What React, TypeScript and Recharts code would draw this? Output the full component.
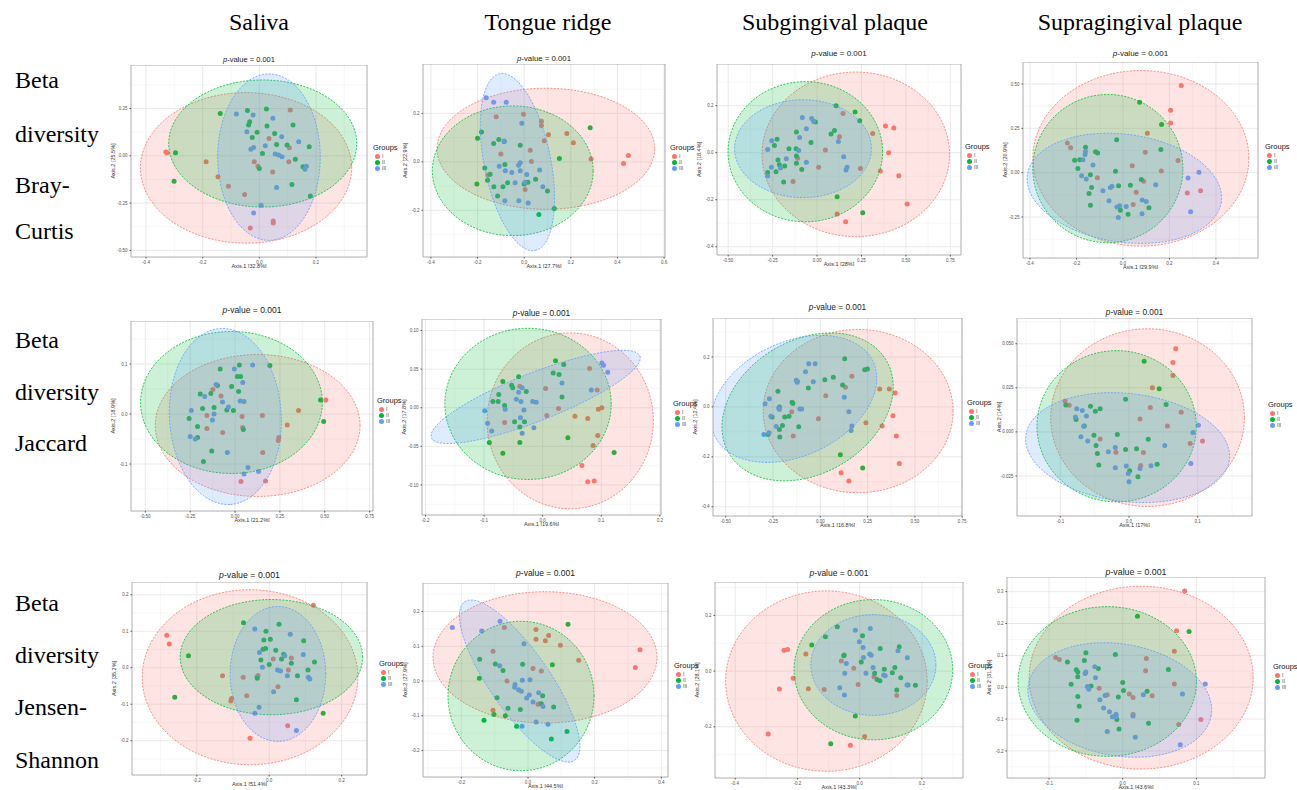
import { useMemo } from 'react'
import { ScatterChart, Scatter, XAxis, YAxis, CartesianGrid, ReferenceArea } from 'recharts'

const groupColors = ['#F8766D', '#00BA38', '#619CFF']
const groupNames = ['I', 'II', 'III']
const columnTitles = ['Saliva', 'Tongue ridge', 'Subgingival plaque', 'Supragingival plaque']
const rowTitles = [
  ['Beta', 'diversity', 'Bray-', 'Curtis'],
  ['Beta', 'diversity', 'Jaccard'],
  ['Beta', 'diversity', 'Jensen-', 'Shannon'],
]
const pValue = '0.001'

// ---- Bray-Curtis ----
const salivaBrayI = [[-0.33,0.02],[-0.325,0.015],[-0.188,-0.032],[-0.146,-0.111],[-0.109,-0.161],[-0.052,-0.205],[-0.018,-0.032],[-0.005,-0.055],[0.034,0.092],[0.047,-0.085],[0.106,0.042],[0.109,0.242],[0.104,-0.032],[-0.032,-0.382],[0.049,-0.345],[0.049,-0.355]]
const salivaBrayII = [[-0.296,0.016],[-0.301,-0.134],[-0.138,0.224],[-0.042,0.239],[0.025,0.247],[-0.034,0.18],[-0.038,0.163],[-0.008,0.124],[-0.025,0.097],[0.027,0.157],[0.054,0.118],[0.061,0.06],[0.119,0.163],[0.098,0.057],[0.176,0.048],[0.127,-0.018],[0.154,-0.058],[0.011,0.012],[0.0,-0.067],[0.115,-0.152],[0.18,-0.212]]
const salivaBrayIII = [[-0.081,0.221],[-0.022,0.216],[0.048,0.198],[-0.044,0.127],[0.079,0.101],[0.139,0.074],[-0.03,0.035],[-0.02,0.044],[0.021,0.053],[0.056,0.009],[0.068,0.004],[0.08,-0.005],[0.166,-0.055],[0.161,-0.071],[0.061,-0.168],[0.006,-0.261],[-0.02,-0.302]]
const salivaBrayEllipses = [[-0.047,-0.064,0.326,-0.064,-0.047,0.334],[0.012,0.065,0.344,0.065,0.012,0.401],[0.034,-0.007,0.215,-0.007,0.034,0.433]]

const tongueBrayI = [[-0.12,0.186],[-0.003,0.197],[0.074,0.168],[0.074,0.15],[0.104,0.112],[0.086,0.087],[0.183,0.117],[0.211,0.079],[-0.1,0.032],[0.026,0.048],[0.031,0.001],[0.287,0.012],[0.426,-0.007],[0.447,0.026],[0.004,-0.114],[-0.156,-0.055]]
const tongueBrayII = [[0.283,0.141],[-0.183,0.123],[-0.2,0.097],[-0.109,0.092],[-0.131,0.076],[-0.086,0.084],[-0.017,0.068],[0.151,0.014],[-0.083,-0.011],[-0.169,-0.025],[-0.146,-0.051],[-0.157,-0.076],[-0.203,-0.092],[-0.13,-0.103],[-0.114,-0.141],[-0.091,-0.103],[-0.071,-0.086],[0.0,-0.092],[0.016,-0.084],[0.049,-0.072],[0.1,-0.12],[0.129,-0.193],[0.063,-0.218]]
const tongueBrayIII = [[-0.163,0.265],[-0.131,0.246],[-0.077,0.246],[-0.01,0.159],[-0.086,0.086],[-0.107,-0.018],[-0.081,-0.037],[-0.053,-0.044],[-0.024,-0.014],[-0.017,-0.004],[-0.017,-0.037],[-0.039,-0.086],[0.011,-0.052],[0.004,-0.084],[0.066,-0.034],[0.08,-0.103],[-0.083,-0.161],[-0.023,-0.161],[0.017,-0.17]]
const tongueBrayEllipses = [[0.093,0.054,0.56,0.054,0.093,0.304],[-0.049,-0.037,0.296,-0.037,-0.049,0.231],[-0.029,-0.001,0.047,-0.366,0.111,0.026]]

const subBrayI = [[0.146,0.167],[0.313,0.082],[0.385,0.113],[0.432,0.105],[0.126,0.068],[0.047,0.011],[0.009,-0.062],[0.403,0.0],[0.356,-0.078],[0.46,-0.098],[0.244,-0.067],[-0.135,-0.123],[-0.109,-0.024],[0.507,-0.218],[0.113,-0.261],[0.161,-0.294]]
const subBrayII = [[0.107,0.199],[0.214,0.173],[0.24,0.136],[-0.009,0.13],[0.098,0.094],[0.079,0.079],[-0.116,0.088],[-0.034,0.043],[-0.158,0.017],[-0.118,0.017],[-0.116,-0.014],[-0.24,0.031],[-0.225,0.057],[-0.22,-0.031],[-0.212,-0.051],[-0.182,-0.057],[-0.231,-0.081],[-0.278,-0.084],[-0.188,-0.125],[-0.116,-0.045],[-0.086,-0.071],[0.113,-0.187],[0.257,-0.255]]
const subBrayIII = [[-0.083,0.15],[-0.06,0.102],[-0.03,0.145],[-0.019,0.133],[-0.098,0.065],[-0.103,0.009],[-0.255,0.051],[-0.278,0.014],[-0.173,-0.026],[-0.257,-0.062],[-0.278,-0.099],[-0.206,-0.065],[-0.06,-0.041],[0.12,0.047],[0.15,-0.017],[0.169,-0.062],[0.163,-0.074]]
const subBrayEllipses = [[0.218,-0.007,0.746,-0.007,0.218,0.343],[-0.066,0.004,0.369,0.004,-0.066,0.302],[-0.079,0.017,0.306,0.017,-0.079,0.225]]

const supraBrayI = [[0.251,0.492],[0.205,0.352],[0.205,0.28],[0.105,0.222],[-0.239,0.167],[-0.225,0.141],[0.096,0.115],[0.237,0.068],[0.04,0.039],[0.165,0.009],[-0.11,-0.028],[0.089,-0.049],[0.057,-0.111],[0.044,-0.18],[0.277,-0.115],[0.334,-0.102]]
const supraBrayII = [[0.072,0.397],[0.166,0.271],[-0.027,0.186],[0.163,0.13],[-0.161,0.143],[-0.118,0.118],[-0.109,0.111],[-0.208,0.07],[-0.186,0.073],[-0.194,0.023],[-0.14,-0.011],[-0.135,-0.083],[-0.146,-0.118],[-0.14,-0.184],[-0.032,0.008],[-0.019,-0.073],[0.032,-0.071],[0.079,-0.039],[0.112,-0.197],[0.022,-0.235],[-0.011,-0.212]]
const supraBrayIII = [[-0.161,0.12],[-0.163,0.102],[-0.172,0.073],[-0.129,0.043],[-0.178,-0.017],[-0.158,-0.036],[-0.086,-0.102],[-0.054,-0.083],[-0.047,-0.077],[-0.06,-0.158],[-0.026,-0.194],[-0.014,-0.186],[0.014,-0.19],[-0.02,-0.252],[0.082,-0.231],[0.083,-0.154],[0.1,-0.162],[0.141,-0.068],[0.28,-0.03],[0.327,0.002],[0.291,-0.22]]
const supraBrayEllipses = [[0.077,0.081,0.542,0.081,0.077,0.576],[-0.065,0.023,0.258,0.023,-0.065,0.441],[0.006,-0.088,0.423,-0.165,-0.027,-0.389]]

// ---- Jaccard ----
const salivaJacI = [[-0.124,0.049],[-0.078,0.036],[-0.157,-0.003],[-0.157,-0.029],[-0.069,-0.037],[0.039,-0.005],[0.043,-0.027],[0.152,-0.003],[0.154,-0.077],[0.244,-0.047],[0.241,-0.053],[0.291,-0.022],[0.354,0.007],[0.506,0.028],[0.033,-0.135],[0.17,-0.134]]
const salivaJacII = [[-0.083,0.09],[0.024,0.098],[0.194,0.097],[0.013,0.075],[0.031,0.075],[-0.019,0.055],[0.02,0.045],[-0.194,0.04],[-0.135,0.041],[-0.098,0.057],[-0.181,0.011],[-0.117,0.013],[-0.046,0.008],[-0.009,0.007],[-0.256,-0.009],[-0.209,-0.025],[-0.209,-0.047],[0.046,-0.031],[-0.13,-0.074],[-0.176,-0.095],[0.476,0.028],[0.494,-0.015]]
const salivaJacIII = [[-0.004,0.09],[0.098,0.098],[0.043,0.063],[-0.106,0.059],[-0.169,0.035],[-0.07,0.024],[-0.037,0.014],[0.028,0.026],[0.05,0.025],[-0.244,0.007],[-0.117,0.0],[-0.126,-0.012],[-0.25,-0.045],[-0.222,-0.05],[-0.043,-0.077],[0.072,-0.107],[0.131,-0.115],[0.05,-0.12]]
const salivaJacEllipses = [[0.126,-0.023,0.697,-0.023,0.126,0.119],[-0.02,0.023,0.487,0.023,-0.02,0.165],[-0.054,-0.005,-0.026,-0.181,0.257,0.002]]

const tongueJacI = [[0.08,0.051],[0.093,0.023],[0.005,0.025],[-0.039,0.028],[-0.065,-0.019],[0.007,-0.01],[0.027,-0.001],[0.055,-0.011],[0.077,-0.014],[0.095,-0.002],[0.101,0.0],[0.094,-0.036],[0.086,-0.049],[0.067,-0.075],[0.077,-0.096],[0.088,-0.095]]
const tongueJacII = [[0.022,0.061],[0.036,0.056],[0.018,0.045],[0.028,0.043],[-0.041,0.04],[-0.068,0.034],[-0.053,0.029],[-0.051,0.026],[-0.075,0.017],[-0.028,0.021],[-0.085,0.008],[-0.076,0.008],[-0.065,0.003],[0.033,0.014],[-0.048,-0.018],[-0.031,-0.018],[-0.039,-0.025],[0.043,-0.039],[-0.091,-0.045],[-0.039,-0.045],[-0.068,-0.059],[0.122,-0.058]]
const tongueJacIII = [[0.101,0.058],[0.104,0.055],[0.111,0.046],[0.033,0.032],[-0.035,0.026],[-0.041,0.02],[-0.045,0.011],[-0.037,0.008],[-0.017,0.008],[-0.011,0.007],[-0.064,-0.002],[-0.032,-0.003],[-0.099,-0.004],[-0.038,-0.013],[-0.015,-0.026],[-0.035,-0.033],[-0.094,-0.02],[-0.087,-0.03],[0.083,0.023]]
const tongueJacEllipses = [[0.047,-0.017,0.189,-0.017,0.047,0.097],[-0.025,0.005,0.117,0.005,-0.025,0.103],[-0.012,0.014,0.166,0.067,0.003,-0.015]]

const subJacI = [[0.167,0.123],[0.133,0.079],[0.029,0.045],[0.314,0.072],[0.365,0.072],[0.396,0.056],[0.384,-0.035],[0.327,-0.077],[0.402,-0.117],[0.418,-0.227],[0.241,-0.064],[-0.01,-0.048],[-0.151,-0.019],[-0.143,-0.117],[0.11,-0.264],[0.151,-0.297]]
const subJacII = [[0.129,0.193],[0.235,0.149],[0.249,0.152],[0.069,0.119],[0.024,0.109],[0.118,0.088],[-0.063,0.076],[-0.122,0.103],[-0.224,0.063],[-0.149,0.019],[-0.145,0.014],[-0.255,-0.04],[-0.216,0.0],[-0.165,-0.037],[-0.188,-0.04],[-0.2,-0.075],[-0.216,-0.091],[-0.114,-0.08],[-0.276,-0.111],[-0.214,-0.121],[0.106,-0.192],[0.224,-0.245]]
const subJacIII = [[-0.061,0.173],[-0.027,0.173],[-0.078,0.141],[-0.037,0.101],[-0.127,0.107],[-0.122,0.099],[-0.269,0.033],[-0.292,0.013],[-0.22,-0.004],[-0.216,-0.01],[-0.108,-0.008],[-0.098,-0.008],[-0.261,-0.037],[-0.233,-0.079],[-0.298,-0.111],[-0.271,-0.104],[0.127,0.039],[0.151,-0.019],[0.167,-0.077],[0.163,-0.095]]
const subJacEllipses = [[0.2,-0.017,0.702,-0.017,0.2,0.31],[-0.067,0.0,0.294,0.236,0.206,-0.179],[-0.139,0.032,0.254,0.212,0.054,-0.148]]

const supraJacI = [[0.068,0.0471],[0.064,0.0394],[0.064,0.032],[0.034,0.0251],[-0.093,0.0175],[-0.087,0.0151],[0.031,0.0138],[0.076,0.0111],[0.016,0.0073],[0.056,0.0034],[-0.042,-0.004],[-0.019,-0.0115],[0.021,-0.0117],[0.017,-0.019],[0.089,-0.0066],[0.107,-0.0051]]
const supraJacII = [[0.022,0.0401],[0.044,0.0245],[-0.005,0.0185],[0.054,0.0156],[-0.092,0.0153],[-0.056,0.0145],[-0.042,0.0132],[-0.049,0.0117],[-0.077,0.007],[-0.065,0.0034],[-0.051,-0.0019],[-0.017,-0.0015],[-0.048,-0.0077],[-0.046,-0.0122],[0.028,-0.0041],[0.011,-0.0096],[-0.005,-0.01],[-0.044,-0.0188],[0.001,-0.022],[0.013,-0.0254],[0.041,-0.0183]]
const supraJacIII = [[-0.076,0.0132],[-0.068,0.0122],[-0.078,0.0085],[-0.062,0.009],[-0.066,0.0032],[-0.07,-0.0028],[-0.06,-0.0051],[-0.03,-0.0113],[-0.02,-0.0089],[-0.02,-0.0204],[-0.004,-0.0194],[-0.001,-0.0236],[0.0,-0.0283],[0.016,-0.0207],[0.032,-0.0192],[0.052,-0.0077],[0.093,-0.0004],[0.101,0.0038],[0.09,-0.0179]]
const supraJacEllipses = [[0.027,0.0081,0.168,0.0081,0.027,0.0585],[-0.018,0.0032,0.098,0.0032,-0.018,0.0461],[-0.002,-0.0089,0.146,-0.0162,-0.014,-0.0392]]

// ---- Jensen-Shannon ----
const salivaJsI = [[0.122,0.171],[-0.283,0.089],[-0.276,0.065],[-0.129,-0.022],[-0.072,-0.026],[-0.034,-0.025],[-0.031,-0.021],[0.011,0.024],[0.061,0.027],[0.053,-0.006],[0.024,-0.052],[-0.062,-0.077],[-0.104,-0.084],[-0.106,-0.091],[0.051,-0.159],[-0.053,-0.193]]
const salivaJsII = [[-0.071,0.123],[0.027,0.119],[-0.009,0.1],[-0.015,0.076],[0.003,0.078],[-0.017,0.051],[-0.01,0.053],[0.018,0.048],[0.04,0.037],[0.034,0.024],[0.061,0.012],[-0.023,0.021],[0.0,0.009],[0.095,0.074],[0.125,0.016],[0.107,-0.006],[0.078,-0.022],[-0.033,-0.029],[-0.223,0.033],[-0.261,-0.081],[0.075,-0.088],[0.149,-0.125]]
const salivaJsIII = [[-0.04,0.106],[0.058,0.092],[-0.027,0.042],[0.043,0.033],[0.094,0.036],[-0.019,0.001],[0.023,-0.006],[0.031,-0.009],[0.05,-0.022],[0.108,-0.026],[0.112,-0.031],[0.012,-0.066],[-0.028,-0.108],[-0.04,-0.125],[0.075,-0.172]]
const salivaJsEllipses = [[-0.053,-0.026,0.245,-0.026,-0.053,0.214],[0.006,0.029,0.258,0.029,0.006,0.187],[0.024,-0.017,0.156,-0.017,0.024,0.168]]

const tongueJsI = [[-0.071,0.154],[0.024,0.148],[0.024,0.12],[0.062,0.131],[0.052,0.116],[0.097,0.103],[0.152,0.06],[-0.105,0.086],[0.015,0.036],[0.04,0.029],[-0.063,0.0],[0.03,-0.067],[0.034,-0.065],[-0.105,-0.084],[0.336,0.09],[0.322,0.039]]
const tongueJsII = [[0.12,0.163],[-0.145,0.063],[-0.098,0.049],[-0.075,0.03],[-0.016,0.048],[0.073,0.047],[-0.146,0.008],[-0.093,-0.048],[-0.06,-0.078],[-0.068,-0.1],[-0.023,-0.082],[0.044,-0.042],[0.04,-0.065],[0.077,-0.075],[-0.102,-0.096],[-0.132,-0.113],[-0.034,-0.13],[0.07,-0.167],[0.117,-0.145]]
const tongueJsIII = [[-0.227,0.154],[-0.139,0.144],[-0.084,0.172],[-0.012,0.107],[-0.085,0.044],[-0.017,0.002],[0.006,0.004],[-0.039,-0.01],[-0.04,-0.018],[-0.02,-0.029],[-0.028,-0.025],[0.004,-0.04],[-0.004,-0.049],[0.032,-0.034],[0.015,-0.06],[0.045,-0.073],[0.024,-0.118],[0.06,-0.124],[-0.018,-0.13]]
const tongueJsEllipses = [[0.051,0.068,0.387,0.068,0.051,0.257],[-0.021,-0.043,0.198,-0.043,-0.021,0.172],[-0.025,0.0,0.14,-0.228,0.049,0.049]]

const subJsI = [[-0.243,0.075],[-0.232,0.078],[-0.173,0.061],[-0.214,-0.026],[-0.258,-0.064],[-0.165,-0.063],[-0.114,-0.066],[-0.059,0.036],[-0.019,0.01],[-0.005,-0.048],[0.046,-0.02],[0.119,-0.088],[-0.294,-0.226],[-0.03,-0.266],[0.016,-0.235]]
const subJsII = [[-0.072,0.159],[0.009,0.127],[-0.11,0.123],[-0.154,0.094],[-0.051,0.055],[-0.05,0.058],[0.066,0.081],[0.127,0.087],[0.005,0.033],[0.079,0.007],[0.113,0.013],[0.105,-0.006],[0.132,-0.024],[0.048,-0.008],[0.056,-0.03],[0.065,-0.035],[0.119,-0.068],[0.155,-0.05],[0.179,-0.051],[-0.014,-0.161],[-0.093,-0.261]]
const subJsIII = [[-0.014,0.147],[0.034,0.153],[-0.001,0.105],[0.011,0.085],[0.032,0.061],[0.037,0.057],[0.012,0.049],[-0.043,0.027],[-0.048,-0.008],[0.02,-0.008],[0.043,0.013],[0.077,-0.014],[0.082,-0.017],[0.123,0.073],[0.153,0.048],[-0.064,-0.06],[-0.049,-0.086],[0.152,-0.05]]
const subJsEllipses = [[-0.107,-0.036,0.217,-0.036,-0.107,0.288],[0.044,0.005,0.299,0.005,0.044,0.257],[0.044,0.022,0.245,0.022,0.044,0.203]]

const supraJsI = [[0.084,0.302],[0.073,0.177],[0.07,0.113],[-0.091,0.093],[-0.086,0.087],[0.032,0.09],[0.031,0.052],[0.07,0.01],[-0.032,-0.003],[-0.021,-0.024],[0.009,-0.021],[0.014,-0.032],[0.04,-0.027],[0.014,-0.085],[0.076,-0.117],[0.106,-0.101]]
const supraJsII = [[0.02,0.223],[0.09,0.175],[-0.05,0.108],[-0.01,0.103],[-0.075,0.079],[-0.052,0.084],[-0.063,0.055],[-0.061,0.048],[-0.033,0.059],[-0.061,0.033],[-0.07,0.009],[-0.043,0.004],[0.0,0.015],[0.001,-0.01],[-0.006,-0.031],[-0.061,-0.029],[-0.059,-0.06],[0.033,-0.013],[0.062,0.056],[-0.008,-0.101],[0.035,-0.113],[-0.005,-0.131],[-0.062,-0.104]]
const supraJsIII = [[-0.038,0.064],[-0.05,0.048],[-0.051,0.043],[-0.037,0.03],[-0.048,0.002],[-0.046,-0.006],[-0.031,-0.039],[-0.024,-0.026],[-0.026,-0.065],[-0.018,-0.077],[-0.009,-0.085],[-0.009,-0.093],[-0.014,-0.093],[0.014,-0.09],[-0.021,-0.139],[0.017,-0.157],[0.028,-0.024],[0.081,-0.021],[0.112,0.01],[0.078,-0.181]]
const supraJsEllipses = [[0.025,0.03,0.177,0.03,0.025,0.317],[-0.021,0.018,0.1,0.018,-0.021,0.253],[-0.004,-0.04,0.12,-0.089,-0.017,-0.213]]

// ---- axes ----
const xTicksA = [-0.4, -0.2, 0, 0.2]
const yTicksA = [-0.5, -0.25, 0, 0.25]
const xTicksB = [-0.4, -0.2, 0, 0.2, 0.4, 0.6]
const yTicksB = [-0.2, 0, 0.2]
const xTicksC = [-0.5, -0.25, 0, 0.25, 0.5, 0.75]
const yTicksC = [-0.4, -0.2, 0, 0.2]
const xTicksD = [-0.4, -0.2, 0, 0.2, 0.4]
const yTicksD = [-0.25, 0, 0.25, 0.5]
const xTicksE = [-0.5, -0.25, 0, 0.25, 0.5, 0.75]
const yTicksE = [-0.1, 0, 0.1]
const xTicksF = [-0.2, -0.1, 0, 0.1, 0.2]
const yTicksF = [-0.1, -0.05, 0, 0.05, 0.1]
const xTicksG = [-0.5, -0.25, 0, 0.25, 0.5, 0.75]
const yTicksG = [-0.4, -0.2, 0, 0.2]
const xTicksH = [-0.1, 0, 0.1]
const yTicksH = [-0.025, 0, 0.025, 0.05]
const xTicksI = [-0.2, 0, 0.2]
const yTicksI = [-0.2, -0.1, 0, 0.1, 0.2]
const xTicksJ = [-0.2, 0, 0.2, 0.4]
const yTicksJ = [-0.2, -0.1, 0, 0.1, 0.2]
const xTicksK = [-0.4, -0.2, 0, 0.2]
const yTicksK = [-0.2, 0, 0.2]
const xTicksL = [-0.1, 0, 0.1]
const yTicksL = [-0.2, -0.1, 0, 0.1, 0.2, 0.3]

const panels = [
  { box: [131, 65, 367, 257], titleY: 60, titleSize: 7.5, legend: [373, 148], xDomain: [-0.453, 0.38], yDomain: [-0.535, 0.48], xTicks: xTicksA, yTicks: yTicksA, xLabel: 'Axis.1 [32.8%]', yLabel: 'Axis.2 [25.5%]', groups: [salivaBrayI, salivaBrayII, salivaBrayIII], ellipses: salivaBrayEllipses },
  { box: [423, 64, 665, 257], titleY: 59, titleSize: 7.8, legend: [670, 148], xDomain: [-0.434, 0.604], yDomain: [-0.393, 0.404], xTicks: xTicksB, yTicks: yTicksB, xLabel: 'Axis.1 [27.7%]', yLabel: 'Axis.2 [22.9%]', groups: [tongueBrayI, tongueBrayII, tongueBrayIII], ellipses: tongueBrayEllipses },
  { box: [717, 64, 961, 255], titleY: 54, titleSize: 8, legend: [965, 147], xDomain: [-0.563, 0.81], yDomain: [-0.435, 0.377], xTicks: xTicksC, yTicks: yTicksC, xLabel: 'Axis.1 [28%]', yLabel: 'Axis.2 [18.4%]', groups: [subBrayI, subBrayII, subBrayIII], ellipses: subBrayEllipses },
  { box: [1023, 62, 1258, 258], titleY: 54, titleSize: 8, legend: [1265, 147], xDomain: [-0.43, 0.581], yDomain: [-0.481, 0.624], xTicks: xTicksD, yTicks: yTicksD, xLabel: 'Axis.1 [29.9%]', yLabel: 'Axis.2 [20.9%]', groups: [supraBrayI, supraBrayII, supraBrayIII], ellipses: supraBrayEllipses },
  { box: [131, 321, 373, 511], titleY: 310, titleSize: 8.5, legend: [377, 401], xDomain: [-0.58, 0.769], yDomain: [-0.194, 0.186], xTicks: xTicksE, yTicks: yTicksE, xLabel: 'Axis.1 [21.2%]', yLabel: 'Axis.2 [18.9%]', groups: [salivaJacI, salivaJacII, salivaJacIII], ellipses: salivaJacEllipses },
  { box: [422, 319, 661, 515], titleY: 313, titleSize: 8.3, legend: [673, 404], xDomain: [-0.206, 0.202], yDomain: [-0.139, 0.115], xTicks: xTicksF, yTicks: yTicksF, xLabel: 'Axis.1 [19.6%]', yLabel: 'Axis.2 [17.8%]', groups: [tongueJacI, tongueJacII, tongueJacIII], ellipses: tongueJacEllipses },
  { box: [713, 318, 962, 516], titleY: 307, titleSize: 8.3, legend: [967, 403], xDomain: [-0.567, 0.749], yDomain: [-0.437, 0.356], xTicks: xTicksG, yTicks: yTicksG, xLabel: 'Axis.1 [16.8%]', yLabel: 'Axis.2 [12.4%]', groups: [subJacI, subJacII, subJacIII], ellipses: subJacEllipses },
  { box: [1017, 318, 1252, 516], titleY: 312, titleSize: 8.3, legend: [1268, 405], xDomain: [-0.163, 0.179], yDomain: [-0.0477, 0.0646], xTicks: xTicksH, yTicks: yTicksH, xLabel: 'Axis.1 [17%]', yLabel: 'Axis.2 [14%]', groups: [supraJacI, supraJacII, supraJacIII], ellipses: supraJacEllipses },
  { box: [132, 582, 367, 775], titleY: 575, titleSize: 8.8, legend: [379, 664], xDomain: [-0.379, 0.27], yDomain: [-0.294, 0.235], xTicks: xTicksI, yTicks: yTicksI, xLabel: 'Axis.1 [51.4%]', yLabel: 'Axis.2 [35.2%]', groups: [salivaJsI, salivaJsII, salivaJsIII], ellipses: salivaJsEllipses },
  { box: [423, 583, 668, 777], titleY: 573, titleSize: 8.5, legend: [674, 666], xDomain: [-0.315, 0.42], yDomain: [-0.276, 0.282], xTicks: xTicksJ, yTicks: yTicksJ, xLabel: 'Axis.1 [44.5%]', yLabel: 'Axis.2 [27.9%]', groups: [tongueJsI, tongueJsII, tongueJsIII], ellipses: tongueJsEllipses },
  { box: [715, 582, 963, 778], titleY: 573, titleSize: 8.5, legend: [968, 666], xDomain: [-0.465, 0.332], yDomain: [-0.384, 0.32], xTicks: xTicksK, yTicks: yTicksK, xLabel: 'Axis.1 [43.3%]', yLabel: 'Axis.2 [28.1%]', groups: [subJsI, subJsII, subJsIII], ellipses: subJsEllipses },
  { box: [1007, 577, 1265, 778], titleY: 572, titleSize: 8.8, legend: [1273, 667], xDomain: [-0.157, 0.193], yDomain: [-0.285, 0.346], xTicks: xTicksL, yTicks: yTicksL, xLabel: 'Axis.1 [43.6%]', yLabel: 'Axis.2 [31.3%]', groups: [supraJsI, supraJsII, supraJsIII], ellipses: supraJsEllipses },
]

const headerX = [259, 548, 835, 1140]
const rowLabelY = [[80, 134, 185, 231], [340, 392, 443], [603, 655, 707, 760]]

const YW = 22
const XH = 11
const RM = 8

const minorValues = (ticks: number[], domain: number[]) => {
  const step = ticks[1] - ticks[0]
  const out: number[] = []
  for (let v = ticks[0] - step / 2; v < domain[1]; v += step) {
    if (v > domain[0]) out.push(v)
  }
  return out
}

const tickFormatter = (ticks: number[]) => {
  const d = Math.max(...ticks.map((t) => (String(t).split('.')[1] || '').length))
  return (v: number) => Number(v).toFixed(d)
}

// ellipse: centre, end of one semi-axis, end of the other (data units), mapped through the chart scales
function makeEllipse(color: string) {
  const pos: number[][] = []
  return (props: any) => {
    const k = props.payload?.k
    pos[k] = [props.cx, props.cy]
    if (k !== 2 || !pos[0] || !pos[1]) return <g />
    const [c, a, b] = pos
    const ux = a[0] - c[0], uy = a[1] - c[1]
    const vx = b[0] - c[0], vy = b[1] - c[1]
    let d = ''
    for (let i = 0; i <= 96; i++) {
      const t = (i / 96) * Math.PI * 2
      const x = c[0] + ux * Math.cos(t) + vx * Math.sin(t)
      const y = c[1] + uy * Math.cos(t) + vy * Math.sin(t)
      d += (i ? 'L' : 'M') + x.toFixed(2) + ',' + y.toFixed(2)
    }
    return <path d={d + 'Z'} fill={color} fillOpacity={0.2} stroke={color} strokeWidth={0.8} strokeDasharray="2 1.4" />
  }
}

const dot = (color: string) => (props: any) => <circle cx={props.cx} cy={props.cy} r={2.5} fill={color} />

function Panel({ p }: { p: any }) {
  const [l, t, r, b] = p.box
  const w = r - l
  const h = b - t
  const ellipseShapes = useMemo(() => groupColors.map((c) => makeEllipse(c)), [])
  const xFmt = tickFormatter(p.xTicks)
  const yFmt = tickFormatter(p.yTicks)
  const tickStyle = { fontSize: 4.5, fill: '#555' }
  return (
    <>
      <div style={{ position: 'absolute', left: l, width: w, top: p.titleY - 6, textAlign: 'center', fontSize: p.titleSize, lineHeight: '12px', color: '#222' }}>
        <i>p</i>-value = {pValue}
      </div>
      <div style={{ position: 'absolute', left: l - YW, top: t }}>
        <ScatterChart width={w + YW + RM} height={h + XH} margin={{ top: 0, right: RM, bottom: 0, left: 0 }}>
          <CartesianGrid verticalValues={minorValues(p.xTicks, p.xDomain)} horizontalValues={minorValues(p.yTicks, p.yDomain)} stroke="#f2f2f2" strokeWidth={0.6} />
          <CartesianGrid verticalValues={p.xTicks} horizontalValues={p.yTicks} stroke="#e4e4e4" strokeWidth={0.8} />
          <XAxis type="number" dataKey="x" domain={p.xDomain} ticks={p.xTicks} interval={0} allowDataOverflow height={XH}
            tick={tickStyle} tickSize={1.5} tickLine={{ stroke: '#555' }} axisLine={false} tickFormatter={xFmt}
            label={{ value: p.xLabel, position: 'insideBottom', offset: 0, fontSize: 5.5, fill: '#333' }} />
          <YAxis type="number" dataKey="y" domain={p.yDomain} ticks={p.yTicks} interval={0} allowDataOverflow width={YW}
            tick={tickStyle} tickSize={1.5} tickLine={{ stroke: '#555' }} axisLine={false} tickFormatter={yFmt}
            label={{ value: p.yLabel, angle: -90, position: 'insideLeft', offset: 4, fontSize: 5.5, fill: '#333', style: { textAnchor: 'middle' } }} />
          {p.groups.map((g: number[][], i: number) => (
            <Scatter key={'g' + i} name={groupNames[i]} data={g.map(([x, y]) => ({ x, y }))} fill={groupColors[i]}
              shape={dot(groupColors[i])} isAnimationActive={false} />
          ))}
          {p.ellipses.map((e: number[], i: number) => (
            <Scatter key={'e' + i} data={[{ x: e[0], y: e[1], k: 0 }, { x: e[2], y: e[3], k: 1 }, { x: e[4], y: e[5], k: 2 }]}
              shape={ellipseShapes[i]} isAnimationActive={false} />
          ))}
          <ReferenceArea x1={p.xDomain[0]} x2={p.xDomain[1]} y1={p.yDomain[0]} y2={p.yDomain[1]} fill="none" fillOpacity={0} stroke="#9a9a9a" strokeWidth={0.8} ifOverflow="visible" />
        </ScatterChart>
      </div>
      <div style={{ position: 'absolute', left: p.legend[0], top: p.legend[1] - 5, fontSize: 7.5, lineHeight: '10px', color: '#222' }}>
        <div>Groups</div>
        {groupNames.map((n, i) => (
          <div key={n} style={{ display: 'flex', alignItems: 'center', height: 6, fontSize: 5, color: '#444' }}>
            <span style={{ display: 'inline-block', width: 5, height: 5, borderRadius: '50%', background: groupColors[i], marginLeft: 1.5, marginRight: 2.5 }} />
            {n}
          </div>
        ))}
      </div>
    </>
  )
}

export default function App() {
  const serif = { fontFamily: '"Liberation Serif", "Times New Roman", serif', fontSize: 24, lineHeight: '24px', color: '#000' }
  return (
    <div style={{ position: 'absolute', left: 0, top: 0, width: 1297, height: 790, overflow: 'hidden', background: '#fff', fontFamily: '"Liberation Sans", Arial, sans-serif' }}>
      {columnTitles.map((c, i) => (
        <div key={c} style={{ ...serif, position: 'absolute', left: headerX[i] - 150, width: 300, top: 10, textAlign: 'center' }}>{c}</div>
      ))}
      {rowTitles.map((lines, r) =>
        lines.map((s, j) => (
          <div key={r + s} style={{ ...serif, position: 'absolute', left: 15, top: rowLabelY[r][j] - 12 }}>{s}</div>
        ))
      )}
      {panels.map((p, i) => <Panel key={i} p={p} />)}
    </div>
  )
}
